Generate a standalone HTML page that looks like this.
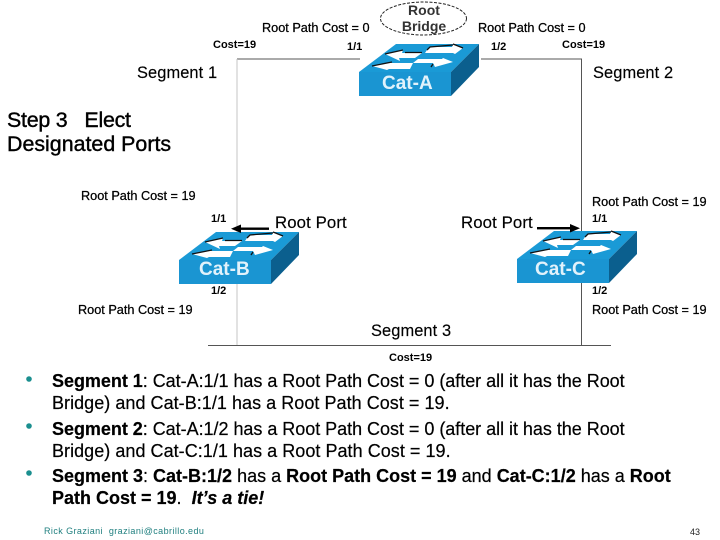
<!DOCTYPE html>
<html><head><meta charset="utf-8"><style>
html,body{margin:0;padding:0;background:#fff}
body{width:720px;height:540px;overflow:hidden;position:relative;font-family:"Liberation Sans",sans-serif;color:#000}
svg{position:absolute;left:0;top:0}
.t{position:absolute;white-space:nowrap;line-height:1}
.s{font-size:12.7px;-webkit-text-stroke:.25px #000}
.m{font-size:16.4px;letter-spacing:.1px;-webkit-text-stroke:.15px #000}
.c{font-size:11px;font-weight:bold}
.k{font-size:19px;font-weight:bold;color:#e2f2fb}
.b{font-size:18px;line-height:22px;-webkit-text-stroke:.2px #000}
</style></head><body>
<svg width="720" height="540" viewBox="0 0 720 540">
<g fill="none">
<line x1="237" y1="59" x2="360" y2="59" stroke="#555" stroke-width="1"/>
<line x1="481" y1="59" x2="582" y2="59" stroke="#555" stroke-width="1"/>
<line x1="237" y1="59" x2="237" y2="345" stroke="#c4c4c4" stroke-width="1"/>
<line x1="581.5" y1="59" x2="581.5" y2="345" stroke="#555" stroke-width="1"/>
<line x1="208" y1="345.5" x2="611" y2="345.5" stroke="#555" stroke-width="1"/>
<ellipse cx="423.5" cy="18.5" rx="43" ry="16.5" stroke="#222" stroke-width="1" stroke-dasharray="3 1.5"/>
</g>
<defs>
<g id="sw">
<polygon points="0,28 37,0 120,0 92,28" fill="#1a9ad6"/>
<polygon points="0,28 92,28 92,52 0,52" fill="#1a95d2"/>
<polygon points="92,28 120,0 120,23 92,52" fill="#0b5f8e"/>
<polygon points="26,10 44,6 43,9 63,9 56,14 40,14 41,17" fill="#fff"/>
<polygon points="13,22 33,18 32,19 54,19 51,25 30,25 28,26" fill="#fff"/>
<polygon points="104,4 94,0 93,3 71,3 68,6 66,9 94,9 96,10" fill="#fff"/>
<polygon points="94,18 84,14 83,15 59,15 54,19 74,19 76,23" fill="#fff"/>
<path d="M26 10 L44 6 M46 8.500 L63 8.500 M13 22 L33 18 M68 6 L71 3 L94 1 M94 0 L104 4 M74 20 L72 23" stroke="#111" stroke-width="1.300" fill="none"/>
</g>
</defs>
<use href="#sw" x="359" y="44"/>
<use href="#sw" x="179" y="232"/>
<use href="#sw" x="517" y="231"/>
<g fill="#000">
<rect x="240" y="227.500" width="29" height="2.400"/>
<polygon points="231,228.700 241,224.500 241,233"/>
<rect x="537" y="227" width="34" height="2.400"/>
<polygon points="580,228.200 570,224 570,232.500"/>
</g>
<g fill="#1b8f8f">
<circle cx="29" cy="379" r="2.800"/>
<circle cx="29" cy="426" r="2.800"/>
<circle cx="29" cy="473" r="2.800"/>
</g>
</svg>

<div class="t" style="left:402px;top:3px;width:44px;text-align:center;font-size:14px;font-weight:bold;color:#333">Root</div>
<div class="t" style="left:400px;top:19px;width:48px;text-align:center;font-size:14px;font-weight:bold;color:#333">Bridge</div>

<div class="t s" style="left:262px;top:22px">Root Path Cost = 0</div>
<div class="t s" style="left:478px;top:22px">Root Path Cost = 0</div>
<div class="c t" style="left:213px;top:40px">Cost=19</div>
<div class="c t" style="left:347px;top:42px">1/1</div>
<div class="c t" style="left:491px;top:42px">1/2</div>
<div class="c t" style="left:562px;top:40px">Cost=19</div>
<div class="t m" style="left:137px;top:65px">Segment 1</div>
<div class="t m" style="left:593px;top:65px">Segment 2</div>
<div class="t k" style="left:382px;top:74px">Cat-A</div>

<div class="t" style="left:7px;top:108px;font-size:21.400px;line-height:24px;-webkit-text-stroke:.4px #000"><span style="letter-spacing:-.25px">Step 3&nbsp;&nbsp; Elect</span><br>Designated Ports</div>

<div class="t s" style="left:81px;top:190px">Root Path Cost = 19</div>
<div class="t s" style="left:592px;top:196px">Root Path Cost = 19</div>
<div class="c t" style="left:211px;top:214px">1/1</div>
<div class="c t" style="left:592px;top:214px">1/1</div>
<div class="t m" style="left:275px;top:215px;font-size:16.800px">Root Port</div>
<div class="t m" style="left:461px;top:215px;font-size:16.800px">Root Port</div>
<div class="t k" style="left:199px;top:260px">Cat-B</div>
<div class="t k" style="left:535px;top:260px">Cat-C</div>
<div class="c t" style="left:211px;top:286px">1/2</div>
<div class="c t" style="left:592px;top:286px">1/2</div>
<div class="t s" style="left:78px;top:304px">Root Path Cost = 19</div>
<div class="t s" style="left:592px;top:304px">Root Path Cost = 19</div>
<div class="t m" style="left:371px;top:323px">Segment 3</div>
<div class="c t" style="left:389px;top:353px">Cost=19</div>

<div class="t b" style="left:52px;top:370px"><span style="letter-spacing:-.03px"><b>Segment 1</b>: Cat-A:1/1 has a Root Path Cost = 0 (after all it has the Root</span><br><span style="letter-spacing:.04px">Bridge) and Cat-B:1/1 has a Root Path Cost = 19.</span></div>
<div class="t b" style="left:52px;top:418px"><span style="letter-spacing:-.03px"><b>Segment 2</b>: Cat-A:1/2 has a Root Path Cost = 0 (after all it has the Root</span><br><span style="letter-spacing:.04px">Bridge) and Cat-C:1/1 has a Root Path Cost = 19.</span></div>
<div class="t b" style="left:52px;top:465px"><b>Segment 3</b>: <b>Cat-B:1/2</b> has a <b>Root Path Cost = 19</b> and <b>Cat-C:1/2</b> has a <b>Root<br>Path Cost = 19</b>.&nbsp; <b><i>It’s a tie!</i></b></div>

<div class="t" style="left:44px;top:527px;font-size:9px;letter-spacing:.42px;color:#1f7f7f">Rick Graziani&nbsp; graziani@cabrillo.edu</div>
<div class="t" style="left:690px;top:528px;font-size:9px;color:#222">43</div>
</body></html>
